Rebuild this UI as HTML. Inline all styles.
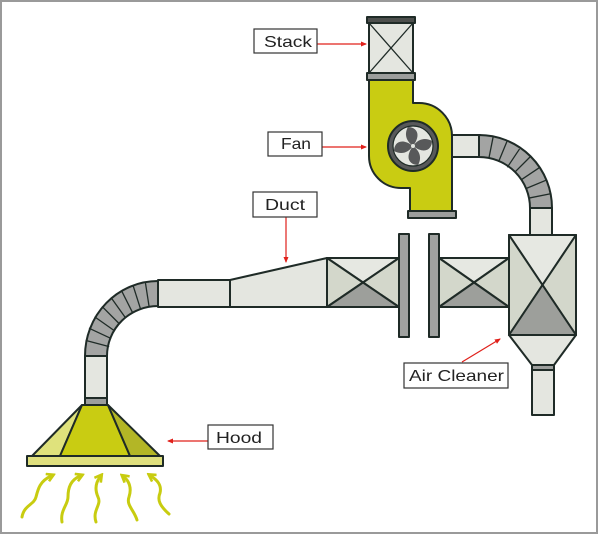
<!DOCTYPE html>
<html><head><meta charset="utf-8"><style>
html,body{margin:0;padding:0;background:#fff;}
svg{display:block;}
text{font-family:"Liberation Sans",sans-serif;fill:#222;}
</style></head><body>
<svg width="600" height="536" viewBox="0 0 600 536" xmlns="http://www.w3.org/2000/svg">
<defs>
<marker id="ra" markerWidth="6" markerHeight="6" refX="5" refY="3" orient="auto" markerUnits="userSpaceOnUse"><path d="M0,0.5 L6,3 L0,5.5 Z" fill="#e0201a"/></marker>
<marker id="ya" markerWidth="10" markerHeight="10" refX="5" refY="5" orient="auto" markerUnits="userSpaceOnUse"><path d="M1,1 L8,5 L1,9" fill="none" stroke="#c8cc10" stroke-width="2.6"/></marker>
</defs>
<rect x="1" y="1" width="596" height="532" fill="#fff" stroke="#9a9a9a" stroke-width="2"/>

<g stroke="#1f2b27" stroke-width="2" stroke-linejoin="round">
<rect x="440" y="135" width="40" height="22" fill="#e4e6e0"/>
<path d="M479,135 A73,73 0 0 1 552,208 H530 A51,51 0 0 0 479,157 Z" fill="#a3a4a3"/>
<g stroke-width="1.3">
<line x1="488.95" y1="157.97" x2="493.24" y2="136.40"/>
<line x1="498.52" y1="161.88" x2="506.94" y2="141.56"/>
<line x1="507.34" y1="167.23" x2="519.56" y2="148.95"/>
<line x1="515.06" y1="171.94" x2="530.62" y2="156.38"/>
<line x1="521.39" y1="179.66" x2="539.67" y2="167.44"/>
<line x1="526.12" y1="188.48" x2="546.44" y2="180.06"/>
<line x1="529.03" y1="198.05" x2="550.60" y2="193.76"/>
</g>
<rect x="530" y="208" width="22" height="27" fill="#e4e6e0"/>
<polygon points="509,235 576,235 542.5,285" fill="#e6e8e2"/>
<polygon points="509,235 509,335 542.5,285" fill="#d3d7cb"/>
<polygon points="576,235 576,335 542.5,285" fill="#d3d7cb"/>
<polygon points="509,335 576,335 542.5,285" fill="#9d9f9b"/>
<rect x="509" y="235" width="67" height="100" fill="none"/>
<polygon points="509,335 576,335 554,365 532,365" fill="#e4e6e0"/>
<rect x="532" y="365" width="22" height="5" fill="#9c9e9c"/>
<rect x="532" y="370" width="22" height="45" fill="#e4e6e0"/>
<polygon points="439,258 509,258 474,282.5" fill="#e6e8e2"/>
<polygon points="439,258 439,307 474,282.5" fill="#d3d7cb"/>
<polygon points="509,258 509,307 474,282.5" fill="#d3d7cb"/>
<polygon points="439,307 509,307 474,282.5" fill="#9d9f9b"/>
<rect x="439" y="258" width="70" height="49" fill="none"/>
<polygon points="327,258 399,258 363,282.5" fill="#e6e8e2"/>
<polygon points="327,258 327,307 363,282.5" fill="#d3d7cb"/>
<polygon points="399,258 399,307 363,282.5" fill="#d3d7cb"/>
<polygon points="327,307 399,307 363,282.5" fill="#9d9f9b"/>
<rect x="327" y="258" width="72" height="49" fill="none"/>
<rect x="399" y="234" width="10" height="103" fill="#a0a2a0"/>
<rect x="429" y="234" width="10" height="103" fill="#a0a2a0"/>
<polygon points="230,280 327,258 327,307 230,307" fill="#e4e6e0"/>
<rect x="158" y="280" width="72" height="27" fill="#e4e6e0"/>
<path d="M158,281 A73,75 0 0 0 85,356 H107 A51,50 0 0 1 158,306 Z" fill="#a3a4a3"/>
<g stroke-width="1.3">
<line x1="149.13" y1="306.79" x2="145.32" y2="282.08"/>
<line x1="140.56" y1="309.02" x2="133.00" y2="285.30"/>
<line x1="132.60" y1="312.70" x2="121.49" y2="290.58"/>
<line x1="125.47" y1="317.70" x2="111.08" y2="297.66"/>
<line x1="119.42" y1="323.86" x2="102.04" y2="306.46"/>
<line x1="114.62" y1="330.88" x2="94.56" y2="316.75"/>
<line x1="111.18" y1="338.57" x2="88.97" y2="328.21"/>
<line x1="109.20" y1="346.62" x2="85.57" y2="340.34"/>
</g>
<rect x="85" y="356" width="22" height="42" fill="#e4e6e0"/>
<rect x="85" y="398" width="22" height="7" fill="#9c9e9c"/>
<polygon points="82,405 32,456 60,456" fill="#dfe27c"/>
<polygon points="82,405 108,405 130,456 60,456" fill="#c9cc12"/>
<polygon points="108,405 160,456 130,456" fill="#b3b626"/>
<rect x="27" y="456" width="136" height="10" fill="#dfe07e"/>
<rect x="369" y="23" width="44" height="50" fill="#e4e6e0"/>
<line x1="369" y1="23" x2="413" y2="73" stroke-width="1.3"/>
<line x1="413" y1="23" x2="369" y2="73" stroke-width="1.3"/>
<rect x="367" y="17" width="48" height="6" fill="#4d4f4d"/>
<path d="M369,80 H413 V103 H419 A33,33 0 0 1 452,136 V211 H410 V188 H401 A32,32 0 0 1 369,156 Z" fill="#c9cc12"/>
<rect x="367" y="73" width="48" height="7" fill="#9c9e9c"/>
<rect x="408" y="211" width="48" height="7" fill="#9c9e9c"/>
<circle cx="413" cy="146" r="25" fill="#58595a"/>
<circle cx="413" cy="146" r="20" fill="#e4e6e0" stroke-width="1.2"/>
</g>
<g fill="#58595a" transform="translate(413,146)">
<path d="M0,0 C-7,-5 -9,-12 -5,-19 C3,-19 9,-12 0,0 Z"/>
<path d="M0,0 C-7,-5 -9,-12 -5,-19 C3,-19 9,-12 0,0 Z" transform="rotate(90)"/>
<path d="M0,0 C-7,-5 -9,-12 -5,-19 C3,-19 9,-12 0,0 Z" transform="rotate(180)"/>
<path d="M0,0 C-7,-5 -9,-12 -5,-19 C3,-19 9,-12 0,0 Z" transform="rotate(270)"/>
<circle cx="0" cy="0" r="2" fill="#e4e6e0"/>
</g>

<g fill="none" stroke="#c8cc10" stroke-width="3" stroke-linecap="round">
<path d="M22,517 C24,505 34,505 36,497 C38,489 40,481 51,476" marker-end="url(#ya)"/>
<path d="M62,522 C60,510 68,505 68,497 C68,487 71,480 80,476" marker-end="url(#ya)"/>
<path d="M96,522 C92,510 102,505 98,497 C94,488 97,481 100,477" marker-end="url(#ya)"/>
<path d="M137,520 C134,510 126,505 129,497 C132,488 129,481 124,477" marker-end="url(#ya)"/>
<path d="M169,514 C160,506 157,500 160,493 C162,485 157,480 151,476" marker-end="url(#ya)"/>
</g>

<g stroke="#e0201a" stroke-width="1.2" fill="none">
<line x1="317" y1="44" x2="366" y2="44" marker-end="url(#ra)"/>
<line x1="322" y1="147" x2="366" y2="147" marker-end="url(#ra)"/>
<line x1="286" y1="217" x2="286" y2="262" marker-end="url(#ra)"/>
<line x1="462" y1="362" x2="500" y2="339" marker-end="url(#ra)"/>
<line x1="208" y1="441" x2="168" y2="441" marker-end="url(#ra)"/>
</g>

<g fill="#fff" stroke="#333" stroke-width="1.2">
<rect x="254" y="29" width="63" height="24"/>
<rect x="268" y="132" width="54" height="24"/>
<rect x="253" y="192" width="64" height="25"/>
<rect x="404" y="363" width="104" height="25"/>
<rect x="208" y="425" width="65" height="24"/>
</g>
<g font-size="16">
<text x="264" y="47" textLength="48" lengthAdjust="spacingAndGlyphs">Stack</text>
<text x="281" y="149" textLength="30" lengthAdjust="spacingAndGlyphs">Fan</text>
<text x="265" y="210" textLength="40" lengthAdjust="spacingAndGlyphs">Duct</text>
<text x="409" y="381" textLength="95" lengthAdjust="spacingAndGlyphs">Air Cleaner</text>
<text x="216" y="443" textLength="46" lengthAdjust="spacingAndGlyphs">Hood</text>
</g>
</svg>
</body></html>
